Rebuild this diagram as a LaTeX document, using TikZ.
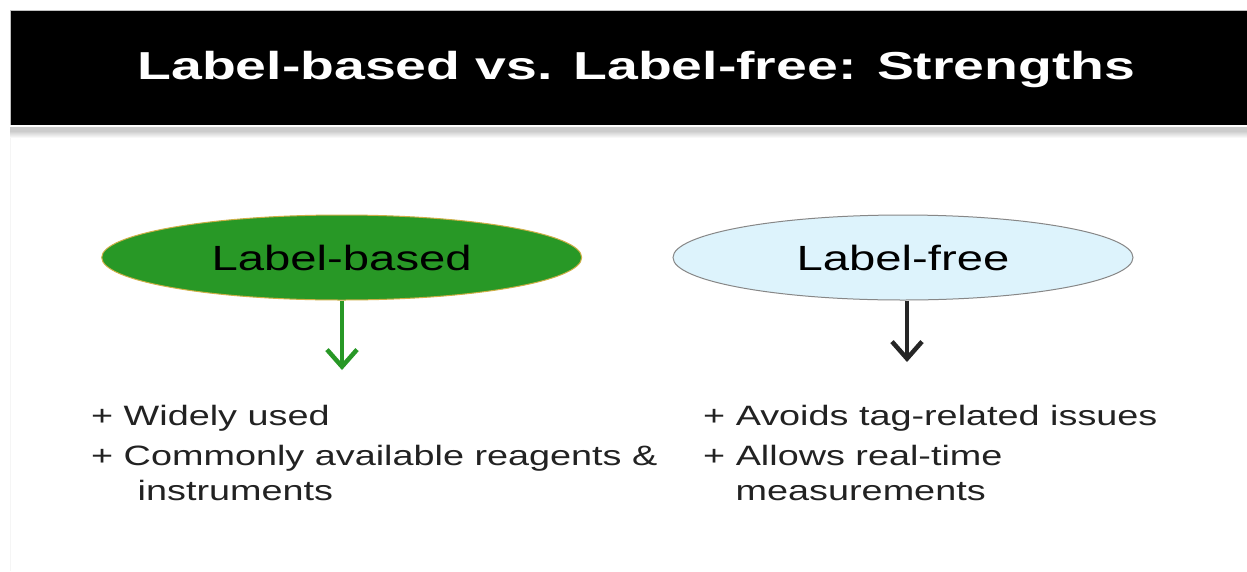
\documentclass[tikz,border=0pt]{standalone}
\usepackage{fontspec}
\setmainfont{Liberation Sans}
\newfontfamily\bodyfont[FakeStretch=1.35]{Liberation Sans}
\newfontfamily\titlefont[FakeStretch=1.42]{Liberation Sans}
\usetikzlibrary{shapes.geometric,arrows.meta}
\definecolor{lbgreen}{RGB}{40,152,38}
\definecolor{lbrim}{RGB}{205,175,70}
\definecolor{lfblue}{RGB}{221,243,252}
\definecolor{lfrim}{RGB}{135,135,135}
\definecolor{bullettext}{RGB}{34,34,34}

\begin{document}
\begin{tikzpicture}[x=1pt,y=-1pt,
  oval/.style={ellipse,inner sep=0pt,minimum height=85pt,line width=1pt,
    font=\bodyfont\fontsize{35}{35}\selectfont,text=black},
  bullet/.style={anchor=base west,inner sep=0pt,text=bullettext,
    font=\bodyfont\fontsize{28}{28}\selectfont},
  downarrow/.style={line width=4.5pt,-{Straight Barb[length=17pt,width=30pt]}}]
\useasboundingbox (0,0) rectangle (1247,571);
\fill[white] (0,0) rectangle (1247,571);

% title bar with its shadow
\fill[black] (10,10) rectangle (1247,125);
\draw[gray!50,line width=0.8pt] (10,125) -- (10,10) -- (1247,10);
\fill[gray!40] (10,127) rectangle (1247,131);
\shade[top color=gray!40,bottom color=white] (10,131) rectangle (1247,138);
\draw[gray!8,line width=0.8pt] (10,138) -- (10,571);
\node[anchor=base,inner sep=0pt,text=white,font=\titlefont\bfseries\fontsize{39}{39}\selectfont]
  (title) at (636.5,79) {Label-based vs. Label-free: Strengths};

% the two approaches
\node[oval,fill=lbgreen,draw=lbrim,minimum width=480pt] (lbased) at (341.7,257.5) {Label-based};
\node[oval,fill=lfblue,draw=lfrim,minimum width=460pt] (lfree) at (903,257.5) {Label-free};

\coordinate (lbasedtip) at (342,370);
\coordinate (lfreetip) at (907,362);
\draw[downarrow,lbgreen] (lbased.south -| lbasedtip) -- (lbasedtip);
\draw[downarrow,black!85] (lfree.south -| lfreetip) -- (lfreetip);

% strengths
\node[bullet] (lbone) at (91,425) {+ Widely used};
\node[bullet] (lbtwo) at (91,465.7) {+ Commonly available reagents \&};
\node[bullet] (lbtwob) at (137.5,500.7) {instruments};

\node[bullet] (lfone) at (703,425) {+ Avoids tag-related issues};
\node[bullet] (lftwo) at (703,465.5) {+ Allows real-time};
\node[bullet] (lftwob) at (735.5,500.5) {measurements};
\end{tikzpicture}
\end{document}
